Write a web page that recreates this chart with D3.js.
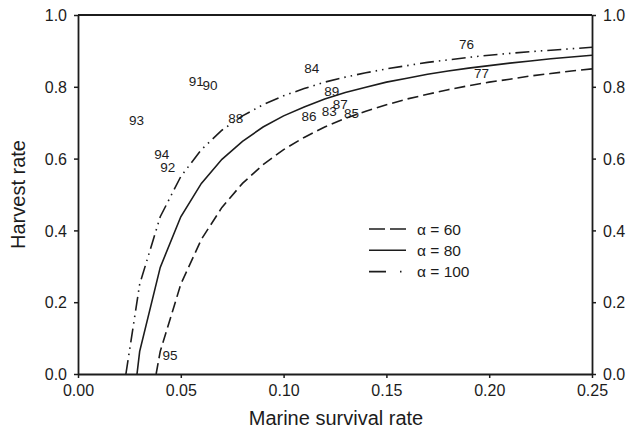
<!DOCTYPE html>
<html>
<head>
<meta charset="utf-8">
<script src="https://cdn.jsdelivr.net/npm/d3@7"></script>
<style>
  html, body { margin: 0; padding: 0; background: #fff; }
  svg { display: block; font-family: "Liberation Sans", Arial, sans-serif; }
</style>
</head>
<body>
<svg id="chart" width="631" height="434"></svg>
<script>
// ---- data ----
const xTicks = [0.00, 0.05, 0.10, 0.15, 0.20, 0.25];
const yTicks = [0.0, 0.2, 0.4, 0.6, 0.8, 1.0];

const survival = [0.03,0.04,0.05,0.06,0.07,0.08,0.09,0.10,0.11,0.12,0.13,0.14,0.15,0.16,0.17,0.18,0.19,0.20,0.21,0.22,0.23,0.24,0.25];

const alpha60Start = [0.038, 0.0];
const alpha60 = [null,0.063,0.250,0.375,0.464,0.531,0.583,0.625,0.659,0.688,0.712,0.732,0.750,0.766,0.779,0.792,0.803,0.813,0.821,0.830,0.837,0.844,0.850];

const alpha80Start = [0.0287, 0.0];
const alpha80 = [0.063,0.297,0.438,0.531,0.598,0.648,0.688,0.719,0.744,0.766,0.784,0.799,0.813,0.824,0.835,0.844,0.852,0.859,0.866,0.872,0.878,0.883,0.888];

const alpha100Start = [0.0233, 0.0];
const alpha100 = [0.250,0.438,0.550,0.625,0.679,0.719,0.750,0.775,0.795,0.813,0.827,0.839,0.850,0.859,0.868,0.875,0.882,0.888,0.893,0.898,0.902,0.906,0.910];

const seriesNames = ["\u03b1 = 60", "\u03b1 = 80", "\u03b1 = 100"];

const yearLabels = ["93","94","92","91","90","88","84","89","86","83","87","85","76","77","95"];
const yearX = [0.0285,0.0407,0.0436,0.0575,0.0642,0.0767,0.1137,0.1234,0.1124,0.1222,0.1276,0.1330,0.1890,0.1963,0.0447];
const yearY = [0.706,0.613,0.576,0.817,0.805,0.712,0.852,0.788,0.717,0.733,0.751,0.727,0.919,0.839,0.053];

// ---- layout ----
const W = 631, H = 434;
const margin = {left: 78, right: 39, top: 15, bottom: 60};
const ink = "#1c1c1c";

const svg = d3.select("#chart");
const x = d3.scaleLinear().domain([0, 0.25]).range([margin.left, W - margin.right]);
const y = d3.scaleLinear().domain([0, 1]).range([H - margin.bottom, margin.top]);

// axes
const fmtX = d3.format(".2f"), fmtY = d3.format(".1f");
const gx = svg.append("g").attr("transform", `translate(0,${y(0)})`)
  .call(d3.axisBottom(x).tickValues(xTicks).tickFormat(fmtX).tickSize(4).tickSizeOuter(0).tickPadding(7));
const gy = svg.append("g").attr("transform", `translate(${x(0)},0)`)
  .call(d3.axisLeft(y).tickValues(yTicks).tickFormat(fmtY).tickSize(4).tickSizeOuter(0).tickPadding(7));
const gy2 = svg.append("g").attr("transform", `translate(${x(0.25)},0)`)
  .call(d3.axisRight(y).tickValues(yTicks).tickFormat(fmtY).tickSize(4).tickSizeOuter(0).tickPadding(7));
[gx, gy, gy2].forEach(g => {
  g.selectAll("text").attr("font-size", 16).attr("fill", ink).attr("font-family", "Liberation Sans, Arial, sans-serif");
  g.selectAll("line").attr("stroke", ink).attr("stroke-width", 1.5);
  g.select(".domain").attr("stroke", ink).attr("stroke-width", 1.8);
});
gy.selectAll("text").attr("dy", "0.36em");
gy2.selectAll("text").attr("dy", "0.36em");
// top frame line
svg.append("line")
  .attr("x1", x(0)).attr("x2", x(0.25)).attr("y1", y(1)).attr("y2", y(1))
  .attr("stroke", ink).attr("stroke-width", 1.8);

// axis titles
svg.append("text")
  .attr("x", (x(0) + x(0.25)) / 2 + 1).attr("y", 425)
  .attr("text-anchor", "middle").attr("font-size", 20).attr("fill", ink)
  .text("Marine survival rate");
svg.append("text")
  .attr("transform", `translate(25,${(y(0) + y(1)) / 2}) rotate(-90)`)
  .attr("text-anchor", "middle").attr("font-size", 20).attr("fill", ink)
  .text("Harvest rate");

// curves
function buildPts(start, vals) {
  const pts = [start];
  survival.forEach((s, i) => { if (vals[i] !== null) pts.push([s, vals[i]]); });
  return pts;
}
const line = d3.line().x(d => x(d[0])).y(d => y(d[1]));
const curves = [
  {pts: buildPts(alpha60Start, alpha60), dash: "11,5"},
  {pts: buildPts(alpha80Start, alpha80), dash: null},
  {pts: buildPts(alpha100Start, alpha100), dash: "14,5,1.5,5,1.5,5"}
];
curves.forEach(c => {
  svg.append("path").datum(c.pts)
    .attr("d", line).attr("fill", "none")
    .attr("stroke", ink).attr("stroke-width", 1.6)
    .attr("stroke-dasharray", c.dash);
});

// year labels
svg.append("g").selectAll("text")
  .data(yearLabels).join("text")
  .attr("x", (d, i) => x(yearX[i])).attr("y", (d, i) => y(yearY[i]))
  .attr("dy", "0.36em").attr("text-anchor", "middle")
  .attr("font-size", 13.5).attr("fill", ink)
  .text(d => d);

// legend
const legDash = ["16,5", null, "17,14,1.5,5,1.5,20"];
const leg = svg.append("g").attr("transform", "translate(369,229)");
seriesNames.forEach((n, i) => {
  const g = leg.append("g").attr("transform", `translate(0,${i * 21.3})`);
  g.append("line").attr("x1", 0).attr("x2", 37).attr("y1", 0).attr("y2", 0)
    .attr("stroke", ink).attr("stroke-width", 1.6)
    .attr("stroke-dasharray", legDash[i]);
  g.append("text").attr("x", 48).attr("y", 0).attr("dy", "0.36em")
    .attr("font-size", 15.5).attr("fill", ink).text(n);
});
</script>
</body>
</html>
